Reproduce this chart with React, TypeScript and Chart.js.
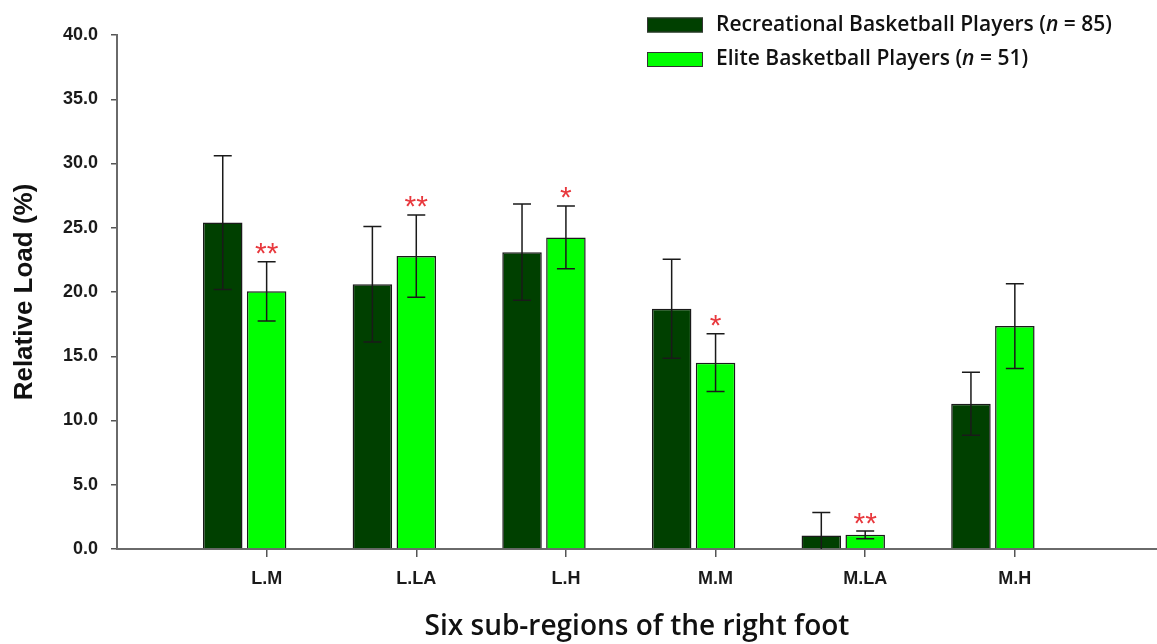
import React, { useEffect, useRef } from 'react';
import { Chart, registerables } from 'chart.js';

Chart.register(...registerables);

// ---- data ----
const categories = ['L.M', 'L.LA', 'L.H', 'M.M', 'M.LA', 'M.H'];
const recreationalMean = [25.4, 20.6, 23.1, 18.7, 1.05, 11.3];
const recreationalSD = [5.2, 4.5, 3.75, 3.85, 1.8, 2.45];
const eliteMean = [20.05, 22.8, 24.25, 14.5, 1.1, 17.35];
const eliteSD = [2.3, 3.2, 2.45, 2.25, 0.3, 3.3];
const eliteSignificance = ['**', '**', '*', '*', '**', ''];
const seriesNames = ['Recreational Basketball Players', 'Elite Basketball Players'];
const seriesN = [85, 51];
const yAxisTitle = 'Relative Load (%)';
const xAxisTitle = 'Six sub-regions of the right foot';

const DARK = '#004000';
const LIGHT = '#00ff00';

const errorBarPlugin = {
  id: 'errorBars',
  afterDatasetsDraw(chart: any) {
    const ctx = chart.ctx;
    const yScale = chart.scales.y;
    const area = chart.chartArea;
    const sets = [
      { means: recreationalMean, sds: recreationalSD },
      { means: eliteMean, sds: eliteSD },
    ];
    ctx.save();
    ctx.strokeStyle = '#1a1a1a';
    ctx.lineWidth = 1.5;
    sets.forEach((s, di) => {
      const meta = chart.getDatasetMeta(di);
      meta.data.forEach((bar: any, i: number) => {
        const x = bar.x;
        const top = yScale.getPixelForValue(s.means[i] + s.sds[i]);
        const bot = Math.min(yScale.getPixelForValue(s.means[i] - s.sds[i]), area.bottom);
        const half = 9;
        ctx.beginPath();
        ctx.moveTo(x, top);
        ctx.lineTo(x, bot);
        ctx.moveTo(x - half, top);
        ctx.lineTo(x + half, top);
        if (bot < area.bottom - 0.5) {
          ctx.moveTo(x - half, bot);
          ctx.lineTo(x + half, bot);
        }
        ctx.stroke();
      });
    });
    // significance stars above elite error bars
    const metaE = chart.getDatasetMeta(1);
    ctx.fillStyle = '#e8383d';
    ctx.font = '30px "Liberation Sans", Arial, sans-serif';
    ctx.textAlign = 'center';
    ctx.textBaseline = 'alphabetic';
    metaE.data.forEach((bar: any, i: number) => {
      const txt = eliteSignificance[i];
      if (!txt) return;
      const top = yScale.getPixelForValue(eliteMean[i] + eliteSD[i]);
      const m = ctx.measureText(txt);
      const center = top - 13;
      const baseline = center - (m.actualBoundingBoxDescent - m.actualBoundingBoxAscent) / 2;
      ctx.fillText(txt, bar.x, baseline);
    });
    ctx.restore();
  },
};

const legendPlugin = {
  id: 'customLegend',
  afterDraw(chart: any) {
    const ctx = chart.ctx;
    ctx.save();
    const rowCenters = [25, 59.5];
    const fontFamily = '"Open Sans", "Noto Sans", sans-serif';
    chart.data.datasets.slice(0, 2).forEach((ds: any, i: number) => {
      const cy = rowCenters[i];
      ctx.fillStyle = ds.backgroundColor;
      ctx.fillRect(647, cy - 7.5, 56, 15);
      ctx.strokeStyle = '#333';
      ctx.lineWidth = 1;
      ctx.strokeRect(647.5, cy - 7, 55, 14);
      ctx.fillStyle = '#111';
      ctx.textBaseline = 'middle';
      ctx.textAlign = 'left';
      let x = 716;
      const parts = [
        { t: `${seriesNames[i]} (`, f: `600 21px ${fontFamily}` },
        { t: 'n', f: `italic 600 21px ${fontFamily}` },
        { t: ` = ${seriesN[i]})`, f: `600 21px ${fontFamily}` },
      ];
      parts.forEach((p) => {
        ctx.font = p.f;
        ctx.fillText(p.t, x, cy);
        x += ctx.measureText(p.t).width;
      });
    });
    ctx.restore();
  },
};

export default function App() {
  const canvasRef = useRef<HTMLCanvasElement | null>(null);

  useEffect(() => {
    if (!canvasRef.current) return;
    const chart = new Chart(canvasRef.current, {
      type: 'bar',
      data: {
        datasets: [
          {
            label: seriesNames[0],
            data: categories.map((_, i) => ({ x: i + 1, y: recreationalMean[i] })),
            backgroundColor: DARK,
            borderColor: '#1a1a1a',
            borderWidth: 1.5,
          },
          {
            label: seriesNames[1],
            data: categories.map((_, i) => ({ x: i + 1, y: eliteMean[i] })),
            backgroundColor: LIGHT,
            borderColor: '#1a1a1a',
            borderWidth: 1.5,
          },
          {
            label: '',
            data: [],
            backgroundColor: 'rgba(0,0,0,0)',
          },
        ],
      } as any,
      options: {
        responsive: false,
        animation: false,
        devicePixelRatio: 1,
        layout: { padding: { top: 35, left: 0, right: 0, bottom: 0 } },
        datasets: {
          bar: { categoryPercentage: 0.88, barPercentage: 0.9, grouped: true },
        },
        plugins: {
          legend: { display: false },
          tooltip: { enabled: false },
        },
        scales: {
          x: {
            type: 'linear',
            offset: false,
            min: 0,
            max: 6.95,
            afterBuildTicks: (scale: any) => {
              scale.ticks = categories.map((_, i) => ({ value: i + 1 }));
            },
            afterFit: (scale: any) => {
              scale.height = 95;
            },
            ticks: {
              autoSkip: false,
              maxRotation: 0,
              padding: 11,
              color: '#1a1a1a',
              font: { family: '"Liberation Sans", Arial, sans-serif', weight: 'bold', size: 18 },
              callback: (v: any) => categories[Number(v) - 1] ?? '',
            },
            grid: {
              display: true,
              offset: false,
              drawOnChartArea: false,
              drawTicks: true,
              tickLength: 8,
              color: '#555',
              lineWidth: 1.5,
            },
            border: { display: true, color: '#6a6a6a', width: 2 },
            title: {
              display: true,
              text: xAxisTitle,
              color: '#111',
              font: { family: '"Open Sans", "Noto Sans", sans-serif', weight: '600', size: 28 },
              padding: { top: 0, bottom: 0 },
            },
          },
          y: {
            min: 0,
            max: 40,
            afterFit: (scale: any) => {
              scale.width = 117;
            },
            ticks: {
              stepSize: 5,
              padding: 13,
              color: '#1a1a1a',
              font: { family: '"Liberation Sans", Arial, sans-serif', weight: 'bold', size: 18 },
              callback: (v: any) => Number(v).toFixed(1),
            },
            grid: {
              display: true,
              drawOnChartArea: false,
              drawTicks: true,
              tickLength: 6,
              color: '#555',
              lineWidth: 1.5,
            },
            border: { display: true, color: '#6a6a6a', width: 2 },
            title: {
              display: true,
              text: yAxisTitle,
              color: '#111',
              font: { family: '"Liberation Sans", Arial, sans-serif', weight: 'bold', size: 26 },
              padding: { top: 9, bottom: 0 },
            },
          },
        },
      } as any,
      plugins: [errorBarPlugin, legendPlugin],
    });
    return () => chart.destroy();
  }, []);

  return (
    <div style={{ position: 'absolute', left: 0, top: 0, width: 1157, height: 644, background: '#fff' }}>
      <canvas ref={canvasRef} width={1157} height={644} style={{ display: 'block' }} />
    </div>
  );
}
